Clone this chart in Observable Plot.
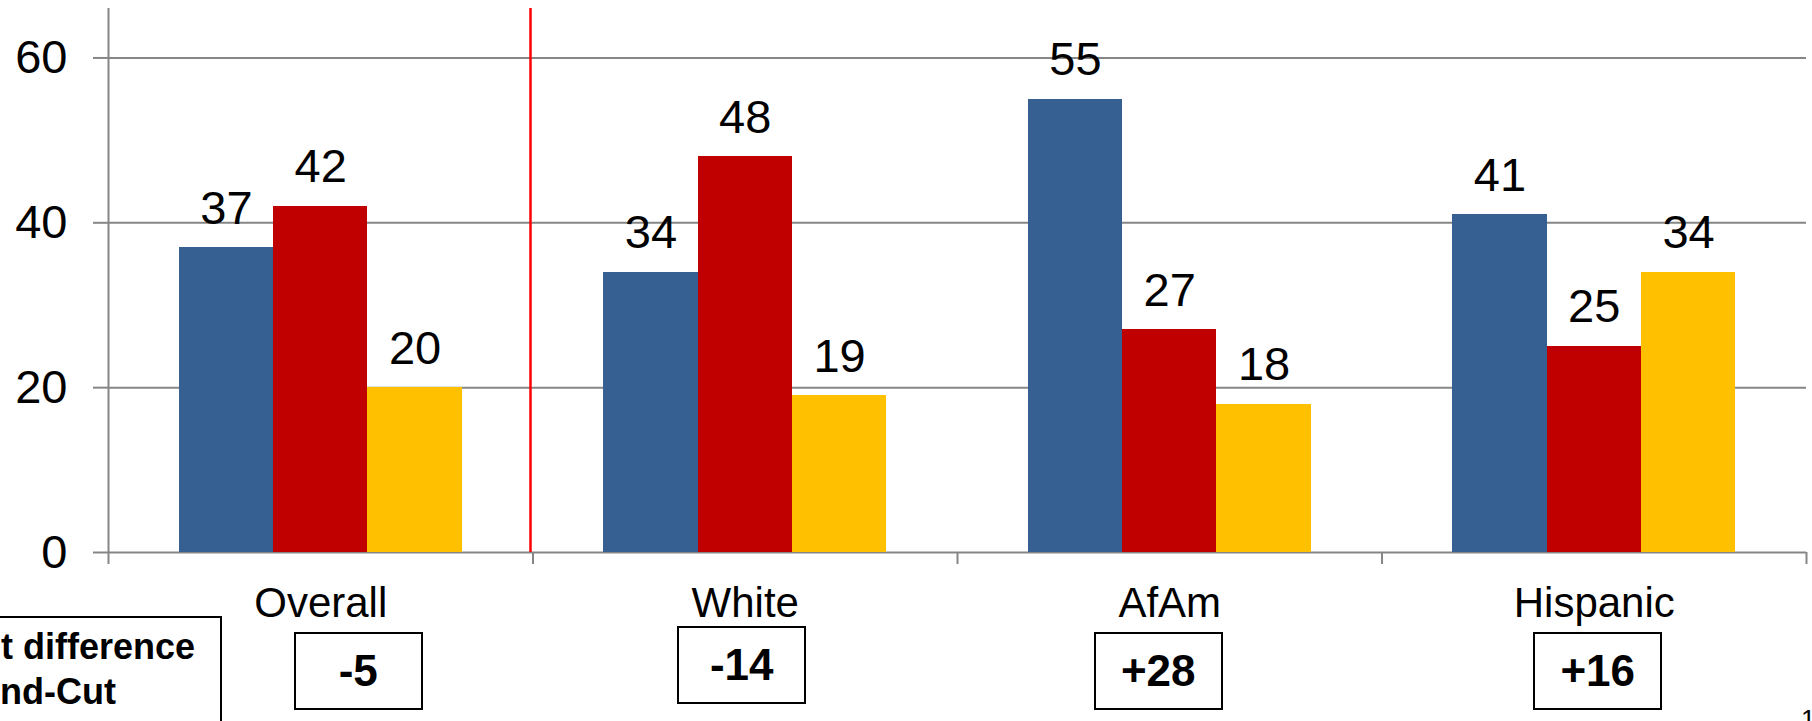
<!DOCTYPE html>
<html><head><meta charset="utf-8">
<script src="https://cdn.jsdelivr.net/npm/d3@7"></script>
<script src="https://cdn.jsdelivr.net/npm/@observablehq/plot@0.6"></script>
<style>
html,body{margin:0;padding:0;background:#fff;overflow:hidden}
#wrap{position:relative;width:1812px;height:721px;overflow:hidden;font-family:"Liberation Sans",Arial,sans-serif;color:#000}
.box{position:absolute;border:2px solid #000;box-sizing:border-box;background:#fff;font-weight:bold}
.box .t{position:absolute;text-align:center;white-space:nowrap}
</style></head><body><div id="wrap"></div>
<script>
// ---- data ----
const categories = ["Overall", "White", "AfAm", "Hispanic"];
const seriesNames = ["Blend", "Cut", "Other"];
const blendValues = [37, 34, 55, 41];
const cutValues = [42, 48, 27, 25];
const otherValues = [20, 19, 18, 34];
const diffLabels = ["-5", "-14", "+28", "+16"];
const yTicks = [0, 20, 40, 60];
const legendLines = ["Percent difference", "Blend-Cut"];

// ---- layout / style (not data) ----
const boxNudge = [38, -3, -11, 4];
const boxTop = [632, 626, 632, 632];
const legendLineShift = [0, -8];
const colors = ["#376092", "#C00000", "#FFC000"];
const gray = "#868686";
const font = '"Liberation Sans", Arial, sans-serif';

const seriesValues = [blendValues, cutValues, otherValues];
const rows = [];
categories.forEach((c, ci) => seriesNames.forEach((s, si) => rows.push({category: c, ci, series: s, si, value: seriesValues[si][ci]})));

const groupStart = 1 / 6, barW = 2 / 9;
const bx1 = d => d.ci + groupStart + d.si * barW;
const bx2 = d => d.ci + groupStart + (d.si + 1) * barW;
const bxc = d => d.ci + groupStart + (d.si + 0.5) * barW;

const chart = Plot.plot({
  width: 1812, height: 721,
  marginLeft: 108, marginRight: 6, marginTop: 8, marginBottom: 169,
  style: {fontFamily: font, background: "#fff", color: "#000", overflow: "visible"},
  x: {domain: [0, categories.length]},
  y: {domain: [0, 66]},
  color: {domain: seriesNames, range: colors},
  marks: [
    Plot.gridY(yTicks, {stroke: gray, strokeOpacity: 1, strokeWidth: 2}),
    Plot.axisY(yTicks, {label: null, tickSize: 15, tickPadding: 26, fontSize: 47, stroke: gray, strokeWidth: 2, fill: "#000", tickFormat: d => String(d)}),
    Plot.rect(rows, {x1: bx1, x2: bx2, y1: 0, y2: "value", fill: "series", shapeRendering: "crispEdges"}),
    Plot.ruleX([0], {stroke: gray, strokeWidth: 2}),
    Plot.ruleX([1], {stroke: "#ff0000", strokeWidth: 2.5, dx: -2.5}),
    Plot.axisX(d3.range(categories.length + 1), {label: null, tickSize: 12, tickFormat: () => "", stroke: gray, strokeWidth: 2}),
    Plot.axisX(categories.map((c, i) => i + 0.5), {label: null, tickSize: 0, tickPadding: 35, fontSize: 42, fill: "#000", tickFormat: d => categories[Math.floor(d)]}),
    Plot.text(rows, {x: bxc, y: "value", text: d => String(d.value), dy: -24, lineAnchor: "bottom", fontSize: 47, fill: "#000"})
  ]
});

const wrap = document.getElementById("wrap");
wrap.appendChild(chart);
const xs = chart.scale("x");

// difference boxes
diffLabels.forEach((t, i) => {
  const cx = xs.apply(i + 0.5) + boxNudge[i];
  const b = document.createElement("div");
  b.className = "box";
  b.style.left = (cx - 64.5) + "px";
  b.style.top = boxTop[i] + "px";
  b.style.width = "129px";
  b.style.height = "78px";
  const s = document.createElement("div");
  s.className = "t";
  s.style.left = "0"; s.style.width = "125px";
  s.style.top = "0"; s.style.lineHeight = "74px";
  s.style.fontSize = "44px";
  s.textContent = t;
  b.appendChild(s);
  wrap.appendChild(b);
});

// legend box (partly off the left edge)
const lg = document.createElement("div");
lg.className = "box";
lg.style.left = "-150px";
lg.style.top = "616px";
lg.style.width = "372px";
lg.style.height = "140px";
legendLines.forEach((line, i) => {
  const lt = document.createElement("div");
  lt.className = "t";
  lt.style.left = (38 + 150 - 2 - 200 + legendLineShift[i]) + "px";
  lt.style.width = "400px";
  lt.style.top = (6 + i * 45) + "px";
  lt.style.fontSize = "36px";
  lt.style.lineHeight = "45px";
  lt.textContent = line;
  lg.appendChild(lt);
});
wrap.appendChild(lg);

// page number
const pn = document.createElement("div");
pn.style.position = "absolute";
pn.style.left = "1801px";
pn.style.top = "706px";
pn.style.fontSize = "26px";
pn.style.lineHeight = "1";
pn.textContent = "1";
wrap.appendChild(pn);
</script>
</body></html>
